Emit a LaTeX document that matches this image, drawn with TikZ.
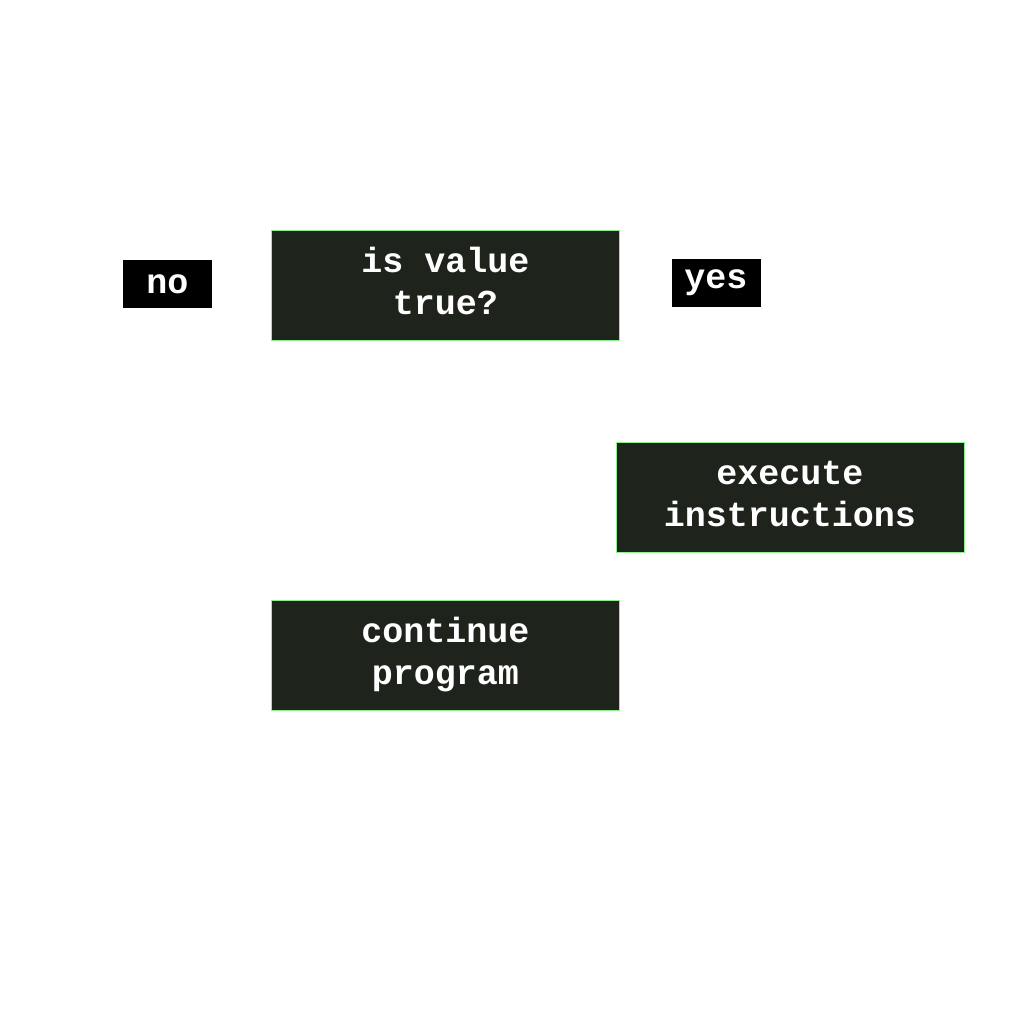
\documentclass[tikz,border=0pt]{standalone}
\usepackage{fontspec}
\setmonofont{Liberation Mono}
\definecolor{boxfill}{HTML}{1E231C}
\definecolor{boxline}{HTML}{8CF08C}
\begin{document}
\begin{tikzpicture}[x=0.5pt,y=-0.5pt,
  procbox/.style={draw=boxline, line width=0.5pt, fill=boxfill, text=white,
    minimum width=174pt, minimum height=55pt, inner sep=0pt, align=center,
    text depth=4pt,
    font=\fontsize{17.5pt}{21pt}\selectfont\ttfamily\bfseries},
  tag/.style={fill=black, text=white, minimum width=44.5pt, minimum height=24pt,
    inner sep=0pt, font=\fontsize{17.5pt}{21pt}\selectfont\ttfamily\bfseries}]
\useasboundingbox (0,0) rectangle (1024,1024);
\node[procbox] (dec) at (445.5,285) {is value\\true?};
\node[tag] (no) at (167.5,284) {no};
\node[tag] (yes) at (716,283) {yes};
\node[procbox] (exec) at (790,497.5) {execute\\instructions};
\node[procbox] (cont) at (445.5,655) {continue\\program};
\end{tikzpicture}
\end{document}
